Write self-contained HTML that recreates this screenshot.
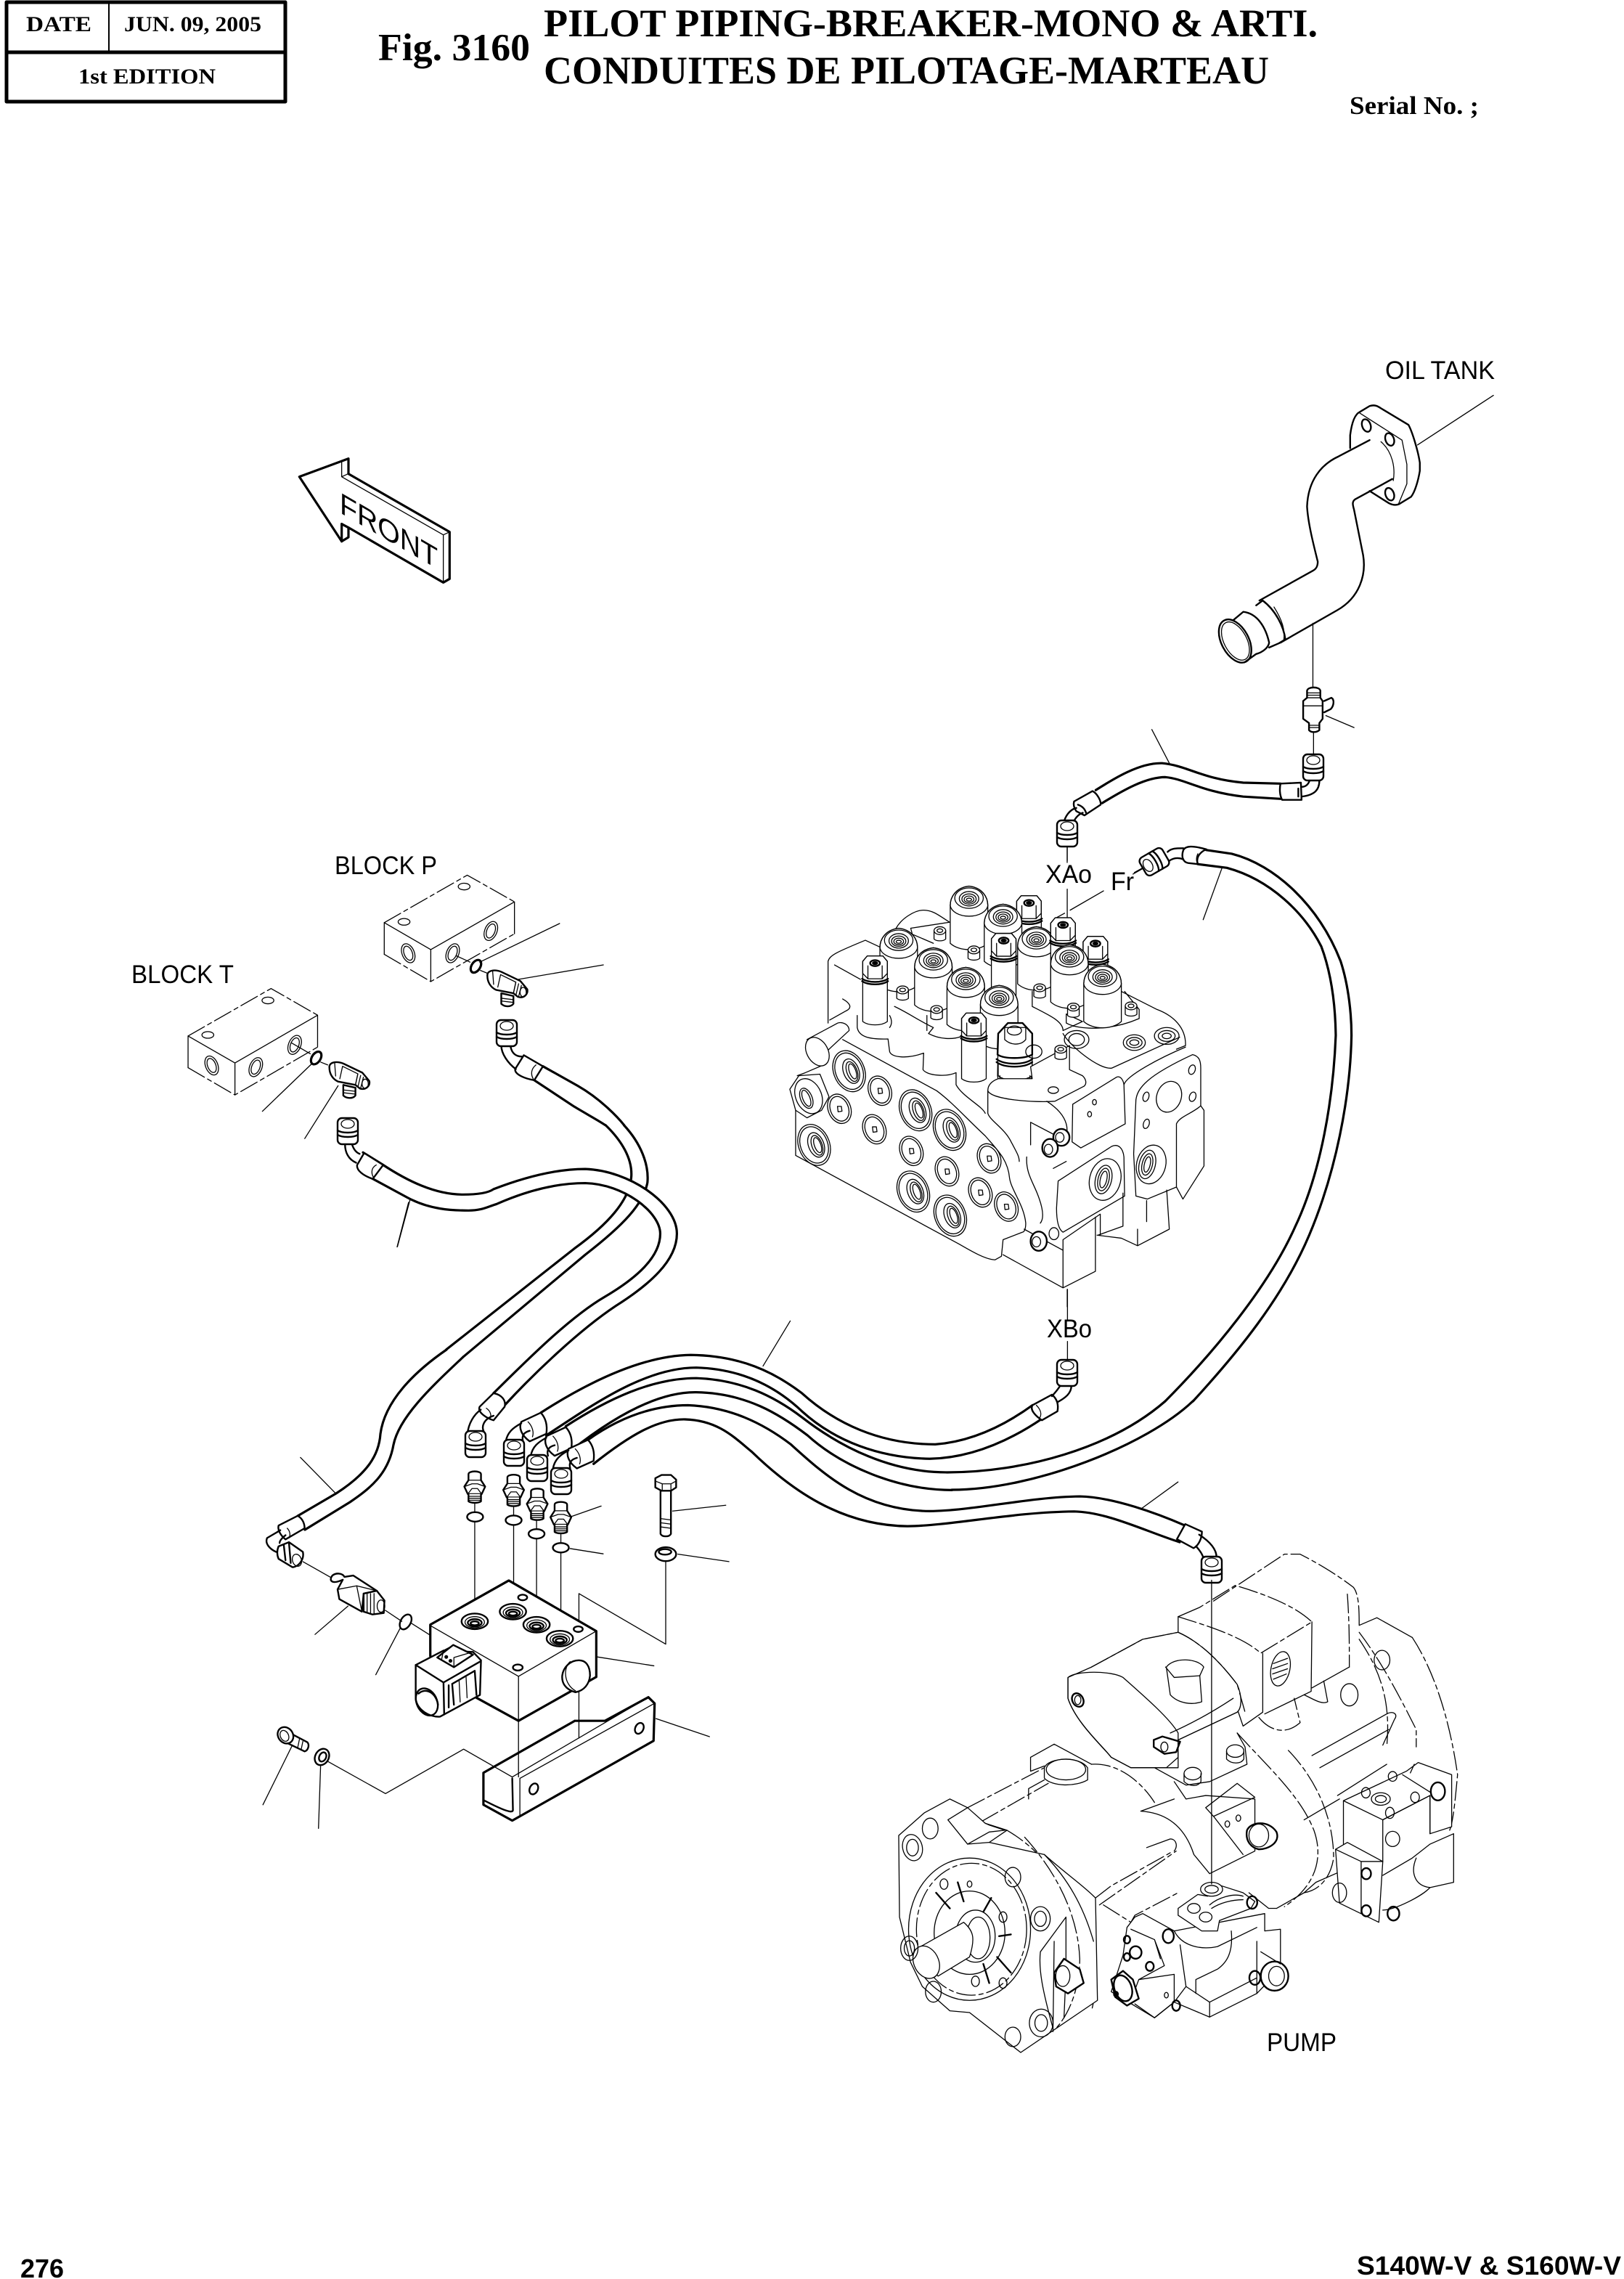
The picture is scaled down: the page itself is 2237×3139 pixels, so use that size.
<!DOCTYPE html>
<html><head><meta charset="utf-8"><title>Fig. 3160</title>
<style>
html,body{margin:0;padding:0;background:#fff}
svg{display:block}
*{vector-effect:non-scaling-stroke}
path,ellipse,rect,line,polygon{stroke:#000;stroke-linejoin:round;stroke-linecap:round}
.k{stroke-width:3.2}.m{stroke-width:2.4}.t{stroke-width:1.3}
.d{stroke-dasharray:26 5 6 5}
.w{fill:#fff}
.b{fill:#000}
text{fill:#000;stroke:none}
.se{font-family:"Liberation Serif",serif;font-weight:bold}
.sa{font-family:"Liberation Sans",sans-serif}
</style></head><body>
<svg xmlns="http://www.w3.org/2000/svg" width="2237" height="3139" viewBox="0 0 2237 3139" fill="none" stroke="#000" stroke-width="1.3">
<defs>
<g id="nut"><rect class="w m" x="-14" y="-18" width="28" height="36" rx="6"/><ellipse class="t" cx="0" cy="-10" rx="9" ry="6"/><path class="m" d="M-14,-1C-8,3 8,3 14,-1M-14,5C-8,9 8,9 14,5"/></g>
<g id="stud"><path class="m w" d="M-18,10C-18,-3 18,-3 18,10L18,32L30,55L20,82L-20,82L-30,55L-18,32Z"/><path class="t" d="M-30,55L-8,45L8,45L30,55M-20,82L-8,62L8,62L20,82M-18,32L18,32"/><path class="m w" d="M-18,82L-18,108C-10,115 10,115 18,108L18,82"/><path class="t" d="M-18,90L18,90M-18,97L18,97M-18,104L18,104"/></g>
<g id="port"><ellipse class="m w" rx="38" ry="28"/><ellipse class="t" cy="3" rx="28" ry="20"/><ellipse class="m" cy="5" rx="20" ry="13"/><ellipse class="m" cy="7" rx="12" ry="7"/></g>
<g id="cap"><path class="w" d="M-58,25L-58,150C-30,178 30,178 58,150L58,25C58,-5 40,-35 0,-40C-40,-35 -58,-5 -58,25Z"/><path d="M-58,25C-55,45 -30,60 0,60C30,60 55,45 58,25C58,-5 40,-35 0,-40C-40,-35 -58,-5 -58,25Z"/><ellipse rx="44" ry="34"/><ellipse cy="2" rx="30" ry="24"/><ellipse cy="3" rx="22" ry="17"/><ellipse cy="4" rx="15" ry="11"/><ellipse cy="5" rx="8" ry="5"/></g>
<g id="hex"><path class="w" d="M-38,-20L-24,-38L24,-38L38,-20L38,20L38,180C20,195 -20,195 -38,180L-38,20Z"/><path d="M-38,-20L-24,-38L24,-38L38,-20L38,20L22,38L-22,38L-38,20Z"/><path class="m" d="M-40,38C-20,52 20,52 40,38M-40,46C-20,60 20,60 40,46"/><ellipse class="m" cy="-14" rx="15" ry="10"/><ellipse class="b" cy="-14" rx="8" ry="5"/><path d="M-22,38L-22,-5M22,38L22,-5"/></g>
<g id="sb"><path class="w" d="M-18,0L-18,28C-10,36 10,36 18,28L18,0Z"/><ellipse class="w" rx="18" ry="13"/><ellipse rx="9" ry="6"/></g>
<g id="pb"><ellipse class="w" rx="35" ry="50" transform="rotate(-18)"/><ellipse rx="28" ry="42" transform="rotate(-18)"/><path d="M-6,-8L6,-8L8,8L-4,10Z"/></g>
<g id="pt"><ellipse class="w" rx="48" ry="70" transform="rotate(-18)"/><ellipse rx="42" ry="62" transform="rotate(-18)"/><ellipse cx="6" cy="2" rx="24" ry="42" transform="rotate(-18)"/><ellipse cx="8" cy="4" rx="16" ry="34" transform="rotate(-18)"/><ellipse cx="10" cy="4" rx="10" ry="26" transform="rotate(-18)"/></g>
<g id="tf"><path class="m w" d="M1130,622L1130,660C1140,672 1158,672 1165,660L1165,632Z"/><path class="t" d="M1130,640L1165,645M1130,650L1165,655"/><path class="m w" d="M1090,560C1088,540 1110,535 1130,545L1185,578L1205,608C1208,625 1195,642 1178,635L1165,622L1115,610C1098,600 1090,580 1090,560Z"/><path class="t" d="M1120,600L1128,555L1172,582L1165,622M1105,540L1108,590"/><path class="t" d="M1172,582L1165,622M1180,588L1172,630M1188,594L1180,634"/><ellipse class="t" cx="1193" cy="618" rx="9" ry="17"/></g>
<g id="fer"><path class="m w" d="M285,985L320,955C330,975 332,1000 330,1025L300,1050C285,1030 280,1005 285,985Z"/><path class="t" d="M297,985C305,1000 308,1020 305,1035"/><path class="m" d="M257,1050C260,1020 270,1005 285,990M288,1050C285,1030 290,1020 300,1015"/></g>
</defs>

<!-- HEADER -->
<rect class="m" x="9" y="3" width="384" height="137" style="stroke-width:5"/>
<line x1="9" y1="72" x2="393" y2="72" style="stroke-width:5"/>
<line x1="150" y1="3" x2="150" y2="72" style="stroke-width:2"/>
<text class="se" x="36" y="43" font-size="30" textLength="90" lengthAdjust="spacingAndGlyphs">DATE</text>
<text class="se" x="171" y="43" font-size="30" textLength="189" lengthAdjust="spacingAndGlyphs">JUN. 09, 2005</text>
<text class="se" x="108" y="115" font-size="30" textLength="189" lengthAdjust="spacingAndGlyphs">1st EDITION</text>
<text class="se" x="521" y="83" font-size="53" textLength="209" lengthAdjust="spacingAndGlyphs">Fig. 3160</text>
<text class="se" x="749" y="50" font-size="54" textLength="1066" lengthAdjust="spacingAndGlyphs">PILOT PIPING-BREAKER-MONO &amp; ARTI.</text>
<text class="se" x="749" y="115" font-size="54" textLength="999" lengthAdjust="spacingAndGlyphs">CONDUITES DE PILOTAGE-MARTEAU</text>
<text class="se" x="1859" y="157" font-size="35" textLength="178" lengthAdjust="spacingAndGlyphs">Serial No. ;</text>
<text class="sa" font-weight="bold" x="28" y="3137" font-size="36" textLength="60" lengthAdjust="spacingAndGlyphs">276</text>
<text class="sa" font-weight="bold" x="1869" y="3133" font-size="36" textLength="364" lengthAdjust="spacingAndGlyphs">S140W-V &amp; S160W-V</text>

<!-- LABELS -->
<text class="sa" x="1908" y="522" font-size="35" textLength="151" lengthAdjust="spacingAndGlyphs">OIL TANK</text>
<text class="sa" x="461" y="1204" font-size="35" textLength="141" lengthAdjust="spacingAndGlyphs">BLOCK P</text>
<text class="sa" x="181" y="1354" font-size="35" textLength="141" lengthAdjust="spacingAndGlyphs">BLOCK T</text>
<text class="sa" x="1440" y="1216" font-size="35" textLength="64" lengthAdjust="spacingAndGlyphs">XAo</text>
<text class="sa" x="1530" y="1226" font-size="35" textLength="32" lengthAdjust="spacingAndGlyphs">Fr</text>
<text class="sa" x="1442" y="1842" font-size="35" textLength="62" lengthAdjust="spacingAndGlyphs">XBo</text>
<text class="sa" x="1745" y="2825" font-size="35" textLength="96" lengthAdjust="spacingAndGlyphs">PUMP</text>

<!-- FRONT ARROW -->
<g transform="translate(380 600) scale(.3333)">
<path class="k" d="M97,170L300,95L300,158L718,398L718,592L692,607L300,380L300,420L272,437Z"/>
<path class="t" d="M272,107L272,170L692,410L692,607M272,170L298,158M692,410L718,398"/>
<path class="k" d="M272,365L272,437M272,365L300,380"/>
</g>
<text class="sa" font-size="41" textLength="156" lengthAdjust="spacingAndGlyphs" transform="matrix(.866 .5 0 1 468 706)">FRONT</text>

<!-- OIL TANK PIPE -->
<g transform="translate(1400 470) scale(.4464)">
<path class="m" d="M1030,330L1030,290C1035,250 1045,225 1060,218L1090,200C1105,195 1115,200 1125,207L1210,258C1222,280 1240,340 1245,375L1245,400C1240,430 1230,465 1218,480L1180,503C1170,507 1160,505 1150,500L1090,462"/>
<path class="t" d="M1060,222L1190,305L1205,380L1205,440L1180,500"/>
<ellipse class="m" cx="1080" cy="260" rx="13" ry="20" transform="rotate(-20 1080 260)"/>
<ellipse class="m" cx="1152" cy="303" rx="13" ry="20" transform="rotate(-20 1152 303)"/>
<ellipse class="m" cx="1152" cy="472" rx="13" ry="20" transform="rotate(-20 1152 472)"/>
<path class="m" d="M1090,305L995,355C940,380 900,430 897,510C900,560 915,620 930,680C930,695 925,703 915,708L750,800"/>
<path class="m" d="M1160,425L1045,488C1035,495 1038,505 1042,520L1070,660C1080,720 1060,790 990,830L815,930"/>
<path class="t" d="M1125,310C1160,340 1170,390 1163,430"/>
<ellipse class="m" cx="675" cy="925" rx="42" ry="72" transform="rotate(-28 675 925)"/>
<ellipse class="t" cx="676" cy="925" rx="35" ry="64" transform="rotate(-28 676 925)"/>
<path class="m" d="M670,860L700,835C745,840 770,885 780,930C778,945 760,960 740,965L705,990"/>
<path class="m" d="M740,815L760,800C800,830 825,880 830,920L810,932L780,945"/>
<path class="t" d="M795,820C820,860 830,890 825,925"/>
<path d="M915,870L915,1065M917,1205L917,1280M1238,320L1472,167M955,1155L1042,1192M418,1198L472,1302"/>
<path class="m w" d="M897,1078C900,1065 935,1065 938,1078L938,1100L945,1110L945,1165L935,1178L935,1200C925,1208 910,1208 903,1200L903,1178L885,1165L885,1110L897,1100Z"/>
<path class="t" d="M897,1085L938,1085M897,1092L938,1092M897,1100L938,1100M885,1125L945,1125M903,1185L935,1185M903,1192L935,1192"/>
<path class="m" d="M950,1110L972,1100C982,1105 980,1125 970,1135L950,1145"/>
<path class="k" d="M245,1385C300,1350 380,1300 450,1302C530,1310 570,1350 700,1362L815,1365"/>
<path class="k" d="M265,1425C330,1385 400,1345 460,1345C520,1350 570,1390 700,1405L815,1412"/>
<path class="m w" d="M815,1365L878,1362L880,1415L820,1415C812,1400 812,1380 815,1365Z"/>
<path class="m" d="M880,1375C890,1375 900,1370 905,1355M880,1405C920,1400 935,1385 935,1355M870,1380L870,1405"/>
<path class="m w" d="M178,1420L235,1388C250,1395 262,1420 260,1430L210,1463L185,1450C178,1440 175,1430 178,1420Z"/>
<path class="m" d="M190,1430C205,1435 212,1445 215,1455M185,1440C165,1445 150,1465 145,1490M205,1455C190,1460 178,1475 175,1490"/>
</g>
<use href="#nut" x="1809" y="1057"/>
<use href="#nut" x="1470" y="1148"/>
<path d="M1470,1167L1470,1188"/>

<!-- HOSES: main area -->
<g transform="translate(500 1550) scale(.7653 .4145)">
<!-- P hose under T hose -->
<path class="k" d="M437,0C465,50 485,110 483,170C480,250 440,330 380,410L150,745"/>
<path class="k" d="M470,0C500,60 515,130 512,190C505,260 470,330 400,430L180,770"/>
<path d="M15,125L60,190C100,235 150,257 185,257C210,257 225,250 238,237C285,200 340,168 400,168C475,172 550,275 550,360C550,445 503,520 445,585C380,660 300,805 245,910" stroke="#fff" style="stroke:#fff;stroke-width:22"/>
<path class="k" d="M0,90L35,130C80,185 130,230 180,230C205,230 225,225 235,212C280,180 340,145 400,145C480,150 565,260 565,360C565,450 515,530 455,600C390,680 310,820 255,930"/>
<path class="k" d="M0,160L80,240C120,280 160,283 190,283C215,283 225,270 240,262C285,225 340,192 400,192C470,195 535,290 535,360C535,440 490,510 435,570C370,640 290,790 235,890"/>
<path d="M85,245L62,403M769,650L720,800M1268,545L1268,650M1268,718L1268,780M1400,1275L1467,1185"/>
<!-- bundle -->
<path class="k" d="M320,955C400,860 500,765 590,763C680,765 740,820 790,890C850,990 930,1060 1030,1060C1100,1050 1160,990 1205,930"/>
<path class="k" d="M330,1030C420,920 510,805 600,805C690,810 750,880 790,950C850,1050 930,1105 1020,1108C1100,1105 1170,1040 1222,975"/>
<path class="k" d="M365,1000C440,910 520,840 600,840C680,845 740,900 790,970C860,1070 950,1153 1050,1153"/>
<path class="k" d="M375,1080C450,970 530,885 600,887C690,890 750,960 800,1030C860,1130 960,1212 1060,1212"/>
<path class="k" d="M405,1045C470,960 530,930 585,930C660,935 720,990 770,1060C830,1160 900,1280 1020,1282C1100,1280 1200,1235 1290,1233C1350,1235 1430,1290 1480,1330"/>
<path class="k" d="M415,1125C480,1030 530,975 580,977C640,980 670,1040 700,1085C770,1210 860,1330 980,1332C1060,1330 1170,1285 1280,1283C1340,1285 1410,1350 1470,1385"/>
<!-- ferrules -->
<path class="m w" d="M210,935L235,890C250,895 258,915 255,935L235,980C225,975 205,955 210,935Z"/>
<path class="t" d="M222,940C230,950 232,965 228,975"/>
<path class="m" d="M188,1025C190,990 200,960 212,945M218,1020C212,1000 218,975 235,965"/>
<use href="#fer"/>
<use href="#fer" x="45" y="48"/>
<use href="#fer" x="85" y="90"/>
<path class="m w" d="M1205,930L1240,895C1250,910 1252,930 1250,950L1222,980C1210,965 1200,945 1205,930Z"/>
<path class="t" d="M1212,930C1220,945 1222,960 1218,972"/>
<path class="m" d="M1255,865C1250,880 1245,890 1240,900M1275,865C1275,890 1265,905 1250,920"/>
<path class="m w" d="M1465,1375L1480,1325L1510,1350C1510,1370 1505,1395 1495,1405Z"/>
<path class="m" d="M1505,1360C1530,1390 1540,1420 1535,1450M1500,1400C1510,1420 1515,1440 1512,1450"/>
</g>
<!-- continuous real-coordinate hose sections -->
<path class="k" d="M1304,2028C1410,2028 1530,1995 1605,1930"/>
<path class="k" d="M1311,2052C1425,2052 1580,1990 1643,1930"/>
<path class="k" d="M615,1859C570,1890 530,1930 524,1975C522,2005 505,2030 463,2057L410,2088"/>
<path class="k" d="M638,1869C600,1905 550,1950 542,1990C535,2030 510,2050 482,2069L420,2107"/>
<use href="#nut" x="655" y="1989"/>
<use href="#nut" x="708" y="2001"/>
<use href="#nut" x="740" y="2022"/>
<use href="#nut" x="773" y="2040"/>
<use href="#nut" x="1470" y="1891"/>
<use href="#nut" x="1669" y="2162"/>

<!-- BIG Fr HOSE -->
<g transform="translate(1550 1130) scale(.3333 .5102)">
<path class="k" d="M335,80L440,90C620,120 800,230 890,380C925,450 935,530 935,580C930,750 870,950 760,1120C650,1290 460,1440 280,1568"/>
<path class="k" d="M300,118L420,128C600,160 740,250 810,340C850,410 868,490 870,580C860,750 810,950 700,1100C590,1260 360,1440 165,1568"/>
<path class="m w" d="M240,80C250,68 280,68 335,78C310,85 290,100 300,118L260,115C235,112 232,95 240,80Z"/>
<path class="t" d="M300,90C293,100 293,110 300,118"/>
<path class="m" d="M175,85C190,75 210,75 240,75M180,110C200,100 220,100 240,105"/>
<path d="M400,128L322,268M32,145L78,128"/>
</g>
<use href="#nut" transform="translate(1590 1187) rotate(-120)"/>

<!-- BLOCKS P / T and fittings -->
<g transform="translate(150 1130) scale(.4783 .3827)">
<path class="t d" d="M793,368L1032,197L1168,293"/>
<path d="M793,368L927,465L1168,293M793,368L793,482M927,465L927,580M1168,293L1168,408"/>
<path class="t d" d="M793,482L927,580L1168,408"/>
<ellipse cx="850" cy="365" rx="17" ry="12"/><ellipse cx="1023" cy="238" rx="17" ry="12"/>
<ellipse cx="862" cy="478" rx="18" ry="35" transform="rotate(-15 862 478)"/><ellipse cx="862" cy="478" rx="12" ry="26" transform="rotate(-15 862 478)"/>
<ellipse cx="990" cy="478" rx="18" ry="35" transform="rotate(15 990 478)"/><ellipse cx="990" cy="478" rx="12" ry="26" transform="rotate(15 990 478)"/>
<ellipse cx="1100" cy="398" rx="18" ry="35" transform="rotate(15 1100 398)"/><ellipse cx="1100" cy="398" rx="12" ry="26" transform="rotate(15 1100 398)"/>
<ellipse class="k" cx="1057" cy="525" rx="13" ry="24" transform="rotate(22 1057 525)"/>
<path d="M1000,487L1040,510M1070,540L1090,550M1068,510L1298,371M1180,572L1424,520"/>
<use href="#tf"/>
<path class="t d" d="M228,776L467,605L601,701"/>
<path d="M228,776L363,873L601,701M228,776L228,890M363,873L363,988M601,701L601,816"/>
<path class="t d" d="M228,890L363,988L601,816"/>
<ellipse cx="285" cy="772" rx="17" ry="12"/><ellipse cx="458" cy="648" rx="17" ry="12"/>
<ellipse cx="296" cy="882" rx="18" ry="35" transform="rotate(-15 296 882)"/><ellipse cx="296" cy="882" rx="12" ry="26" transform="rotate(-15 296 882)"/>
<ellipse cx="423" cy="888" rx="18" ry="35" transform="rotate(15 423 888)"/><ellipse cx="423" cy="888" rx="12" ry="26" transform="rotate(15 423 888)"/>
<ellipse cx="535" cy="808" rx="18" ry="35" transform="rotate(15 535 808)"/><ellipse cx="535" cy="808" rx="12" ry="26" transform="rotate(15 535 808)"/>
<ellipse class="k" cx="597" cy="855" rx="13" ry="24" transform="rotate(22 597 855)"/>
<path d="M525,800L580,840M610,870L630,880M585,875L442,1047M660,955L564,1145M863,1375L830,1535"/>
<use href="#tf" x="-455" y="330"/>
<!-- T hose end -->
<path class="m w" d="M715,1240L735,1197L790,1240L760,1290C735,1280 712,1260 715,1240Z"/>
<path class="t" d="M770,1240C755,1250 755,1270 762,1285"/>
<path class="m" d="M680,1165C680,1195 690,1220 712,1232M700,1165C705,1185 712,1195 722,1200"/>
<!-- P hose end -->
<path class="k" d="M1250,885L1350,955C1420,1005 1470,1075 1484,1097"/>
<path class="k" d="M1225,935L1340,1030C1380,1060 1410,1080 1430,1097"/>
<path class="m w" d="M1170,895L1195,845L1250,885L1225,935C1200,930 1168,915 1170,895Z"/>
<path class="t" d="M1230,880C1215,895 1215,915 1222,930"/>
<path class="m" d="M1130,810C1130,840 1150,875 1172,895M1157,815C1160,835 1170,850 1190,850"/>
</g>
<use href="#nut" x="479" y="1558"/>
<use href="#nut" x="698" y="1423"/>

<!-- MANIFOLD -->
<g transform="translate(300 1950) scale(.4783 .3827)">
<path class="m w" d="M175,395L230,360C245,370 250,390 250,405L195,445C180,430 172,410 175,395Z"/>
<path class="t" d="M200,405C208,415 210,430 205,440"/>
<path class="m" d="M180,412L142,440C135,460 150,480 168,490M195,430C185,440 178,450 178,458"/>
<path class="m w" d="M175,470L205,455L245,490C250,520 230,545 215,545L175,515C170,500 170,485 175,470Z"/>
<ellipse class="t" cx="228" cy="520" rx="13" ry="22" transform="rotate(-10 228 520)"/>
<path class="m" d="M190,465L195,520M205,458L210,530"/>
<path d="M340,280L238,150M245,525L330,585"/>
<path class="m w" d="M360,590C325,610 320,590 330,575C340,565 358,565 365,580L390,575L458,630L420,640L415,705L350,660L345,625Z"/>
<path class="t" d="M345,625L400,612L458,630M400,612L415,705"/>
<path class="m w" d="M420,640L458,630L480,665L478,710L445,715L420,705Z"/>
<ellipse cx="470" cy="685" rx="11" ry="22"/>
<path class="t" d="M430,640L430,705M440,640L440,710M450,640L450,712"/>
<path d="M375,685L280,787M482,700L530,740M555,745L612,790M525,765L455,932"/>
<ellipse class="m" cx="541" cy="742" rx="15" ry="28" transform="rotate(20 541 742)"/>
<!-- lines -->
<path d="M740,312L740,345M740,382L740,735M852,325L852,360M852,395L852,685M918,375L918,408M918,442L918,740M988,425L988,458M988,495L988,800"/>
<use href="#stud" x="740" y="200"/><use href="#stud" x="852" y="212"/><use href="#stud" x="920" y="262"/><use href="#stud" x="988" y="310"/>
<ellipse class="m" cx="741" cy="364" rx="23" ry="17"/><ellipse class="m" cx="852" cy="376" rx="23" ry="17"/><ellipse class="m" cx="918" cy="425" rx="23" ry="17"/><ellipse class="m" cx="988" cy="475" rx="23" ry="17"/>
<path d="M1020,362L1104,325M1015,478L1110,497M1310,343L1463,322M1325,498L1472,525M1093,868L1256,900"/>
<!-- bolt -->
<path class="m" d="M1275,270L1275,425C1280,437 1300,437 1305,425L1305,270"/>
<path class="m w" d="M1260,225L1278,213L1305,213L1320,230L1320,258L1305,270L1278,270L1260,258Z"/>
<path class="t" d="M1260,235L1280,245L1305,245L1320,235M1280,245L1280,270M1305,245L1305,270M1275,370L1305,375M1275,385L1305,390M1275,400L1305,405"/>
<ellipse class="m" cx="1290" cy="498" rx="30" ry="25"/><ellipse class="m" cx="1288" cy="490" rx="18" ry="10"/>
<path d="M1290,525L1290,822L1040,640L1040,760"/>
<!-- block body -->
<path class="k w" d="M612,752L838,593L1090,775L1090,940L866,1098L745,1015L612,865Z"/>
<path d="M612,755L866,938L1090,775M866,938L866,1098"/>
<use href="#port" x="740" y="740"/><use href="#port" x="850" y="705"/><use href="#port" x="918" y="752"/><use href="#port" x="985" y="802"/>
<ellipse class="m" cx="878" cy="654" rx="13" ry="10"/><ellipse class="m" cx="1038" cy="768" rx="13" ry="10"/><ellipse class="m" cx="864" cy="906" rx="14" ry="11"/>
<!-- solenoid -->
<path class="m w" d="M570,897L650,845L735,850L758,880L755,1005L640,1083C610,1085 575,1060 570,1020Z"/>
<path class="m" d="M570,897L650,960L755,885M650,960L652,1075"/>
<path class="m w" d="M632,870L678,825L735,860L680,905Z"/>
<path class="t" d="M645,875L650,845L680,825M680,905L680,870L735,850"/>
<ellipse class="b" cx="658" cy="868" rx="4" ry="5"/><ellipse class="b" cx="670" cy="882" rx="4" ry="5"/>
<path class="m" d="M665,970L665,1050M675,965L740,918L745,1005M675,965L680,1040"/>
<path class="t" d="M695,955L698,1030M715,940L718,1015"/>
<ellipse class="m" cx="602" cy="1030" rx="30" ry="50" transform="rotate(-15 602 1030)"/>
<path class="m" d="M578,1000C600,975 630,1000 634,1040"/>
<!-- plug -->
<path class="m w" d="M1040,880C1060,880 1072,900 1072,935C1070,965 1055,990 1030,995C1000,985 990,960 992,935C995,905 1015,880 1040,880Z"/>
<path class="t" d="M1015,885C995,905 995,965 1030,990"/>
<!-- bracket -->
<path d="M1040,995L1040,1160M866,1098L866,1300"/>
<path class="k" d="M1028,1098L765,1285L765,1400L848,1457L1255,1170L1258,1035L1240,1013L1115,1098L1028,1098"/>
<path class="m" d="M848,1305L850,1420C848,1430 830,1425 768,1385"/>
<path d="M848,1300L1240,1013M870,1305L870,1440M870,1305L1258,1035"/>
<ellipse class="m" cx="1214" cy="1125" rx="12" ry="20" transform="rotate(15 1214 1125)"/>
<ellipse class="m" cx="910" cy="1343" rx="12" ry="20" transform="rotate(15 910 1343)"/>
<path d="M1262,1090L1416,1155M848,1300L708,1200L483,1360L318,1245"/>
<!-- bolt+washer -->
<path class="m w" d="M205,1140L258,1175C265,1185 260,1205 250,1208L200,1178Z"/>
<ellipse class="m w" cx="195" cy="1150" rx="22" ry="30" transform="rotate(-15 195 1150)"/>
<ellipse cx="192" cy="1152" rx="12" ry="20" transform="rotate(-15 192 1152)"/>
<path class="t" d="M235,1165L230,1195M245,1172L240,1202"/>
<ellipse class="m" cx="300" cy="1228" rx="20" ry="30" transform="rotate(15 300 1228)"/>
<ellipse class="m" cx="302" cy="1228" rx="10" ry="17" transform="rotate(15 302 1228)"/>
<path d="M215,1185L130,1400M296,1262L290,1485"/>
</g>

<!-- CONTROL VALVE -->
<g transform="translate(1000 1150) scale(.4464 .4145)">
<path d="M1053,40L1053,85M1053,180L1053,420M1053,1510L1053,1568M1062,250L1165,186M1020,275L1045,260M1260,125L1285,110"/>
<path d="M525,310C540,280 580,250 610,250C640,250 660,270 690,290M690,290L570,310L575,330L640,360"/>
<path d="M315,625L315,420C320,400 340,390 430,350L480,375M335,432L415,480M360,545C385,560 390,575 370,585L320,615"/>
<path d="M1220,520L1330,580C1380,600 1420,640 1418,700L1390,712M1040,660C1060,700 1150,780 1190,775L1400,672"/>
<!-- flanges -->
<path d="M405,600L405,640C410,670 440,680 500,678L505,720C510,740 560,745 610,725L608,780C620,800 680,805 710,790L710,830C730,870 790,900 800,925"/>
<path d="M505,640C515,625 510,610 505,600M520,570C560,590 600,620 640,640L625,660C660,680 700,680 725,670M620,650L620,600M945,520L945,570C1000,600 1040,620 1040,650L1100,620L1050,595L1050,625C1090,650 1190,650 1275,610L1275,580L1230,520"/>
<use href="#cap" x="750" y="210"/>
<use href="#hex" x="935" y="260" transform="translate(0 -20)"/>
<use href="#cap" x="855" y="270"/>
<use href="#sb" x="660" y="318"/>
<use href="#cap" x="958" y="345"/>
<use href="#hex" x="1040" y="328" transform="translate(0 -15)"/>
<use href="#hex" x="1140" y="390" transform="translate(0 -15)"/>
<use href="#sb" x="765" y="382"/>
<use href="#cap" x="533" y="350"/>
<use href="#hex" x="857" y="365"/>
<use href="#cap" x="640" y="415"/>
<use href="#hex" x="460" y="440"/>
<use href="#cap" x="1060" y="405"/>
<use href="#sb" x="545" y="515"/>
<use href="#sb" x="968" y="508"/>
<use href="#cap" x="740" y="480"/>
<use href="#cap" x="1162" y="470"/>
<use href="#sb" x="650" y="580"/><use href="#sb" x="1072" y="572"/><use href="#sb" x="1250" y="568"/><use href="#sb" x="1033" y="712"/>
<use href="#cap" x="843" y="540"/>
<use href="#hex" x="765" y="630"/>
<!-- big stack -->
<path class="w" d="M840,660L870,625L915,625L945,660L945,800L930,845L845,845L838,800Z"/>
<path class="m" d="M840,660L870,625L915,625L945,660L945,730C920,745 860,745 838,730Z"/>
<path class="m" d="M835,745C860,765 920,765 945,745M835,755C860,775 920,775 945,755"/>
<path d="M840,760L840,800C860,820 920,820 945,800L945,760M845,800L845,845M938,800L938,845M860,680L860,640L925,640L925,680M860,680C880,700 910,700 925,680"/>
<ellipse cx="890" cy="650" rx="22" ry="15"/>
<!-- front plate -->
<path d="M360,680L650,850C700,890 740,940 800,1000C840,1050 870,1080 875,1140C880,1180 920,1230 925,1290C925,1310 920,1320 915,1320L855,1345L850,1400L830,1412C800,1410 760,1385 720,1360L215,1065L215,915"/>
<path d="M250,680L345,625C360,620 380,630 380,650L315,715L310,760L245,790L220,800"/>
<ellipse cx="282" cy="720" rx="33" ry="50" class="w" transform="rotate(-25 282 720)"/>
<path class="w" d="M197,845L225,800L290,795L318,870L295,915L250,940L215,915Z"/>
<ellipse cx="255" cy="868" rx="40" ry="60" transform="rotate(-20 255 868)"/>
<ellipse cx="248" cy="875" rx="18" ry="35" transform="rotate(-20 248 875)"/>
<ellipse cx="248" cy="875" rx="11" ry="28" transform="rotate(-20 248 875)"/>
<use href="#pt" x="380" y="785"/><use href="#pt" x="585" y="915"/><use href="#pt" x="690" y="980"/><use href="#pt" x="272" y="1030"/><use href="#pt" x="578" y="1185"/><use href="#pt" x="692" y="1265"/>
<use href="#pb" x="475" y="850"/><use href="#pb" x="350" y="910"/><use href="#pb" x="458" y="978"/><use href="#pb" x="572" y="1050"/><use href="#pb" x="682" y="1118"/><use href="#pb" x="812" y="1075"/><use href="#pb" x="785" y="1188"/><use href="#pb" x="865" y="1235"/>
<!-- right of centre -->
<path d="M808,850L808,925C815,950 860,975 880,1020C900,1060 905,1070 905,1085"/>
<path class="w" d="M840,810C815,820 808,835 808,850C820,880 950,890 1015,885L1105,835C1115,825 1110,810 1100,800L1060,780L1060,700L940,770L945,810Z"/>
<ellipse cx="1010" cy="848" rx="16" ry="11"/><ellipse cx="950" cy="720" rx="25" ry="22"/>
<use href="#sb" x="1033" y="712"/>
<path class="w" d="M1070,895L1205,805C1215,800 1225,810 1228,830L1232,960L1095,1040L1068,1020Z"/>
<ellipse cx="1137" cy="888" rx="6" ry="9"/><ellipse cx="1122" cy="928" rx="6" ry="9"/>
<path d="M990,885C1040,920 1060,960 1050,1000M940,955L940,1030M940,955L1020,1000M928,1070C925,1120 945,1150 960,1190C975,1230 985,1270 970,1290M1010,1108L1050,1085"/>
<path class="w" d="M1025,1150L1190,1035C1210,1025 1225,1040 1228,1070L1230,1200L1040,1320C1025,1310 1020,1280 1020,1240Z"/>
<ellipse cx="1170" cy="1145" rx="48" ry="70" transform="rotate(12 1170 1145)"/>
<ellipse cx="1165" cy="1145" rx="25" ry="48" transform="rotate(12 1165 1145)"/>
<ellipse cx="1165" cy="1145" rx="17" ry="38" transform="rotate(12 1165 1145)"/>
<ellipse cx="1165" cy="1145" rx="10" ry="28" transform="rotate(12 1165 1145)"/>
<path d="M1040,1345L1040,1505L1140,1450L1140,1270M855,1395L1040,1505M920,1310L1040,1380M1040,1345L1155,1260L1155,1330"/>
<path class="w" d="M1265,880C1270,840 1300,800 1440,730C1460,735 1465,750 1465,775L1465,900L1475,915L1475,1100L1410,1210L1390,1170L1300,1210L1265,1200L1258,1060Z"/>
<path d="M1228,830C1235,800 1340,740 1418,705M1390,960L1390,1170M1390,960C1400,935 1440,925 1465,900"/>
<ellipse cx="1367" cy="870" rx="38" ry="52" transform="rotate(15 1367 870)"/>
<ellipse cx="1296" cy="870" rx="9" ry="16" transform="rotate(15 1296 870)"/>
<ellipse cx="1297" cy="960" rx="9" ry="16" transform="rotate(15 1297 960)"/>
<ellipse cx="1438" cy="780" rx="10" ry="16" transform="rotate(15 1438 780)"/>
<ellipse cx="1440" cy="870" rx="10" ry="16" transform="rotate(15 1440 870)"/>
<ellipse cx="1312" cy="1095" rx="45" ry="65" transform="rotate(12 1312 1095)"/>
<ellipse cx="1300" cy="1095" rx="25" ry="48" transform="rotate(12 1300 1095)"/>
<ellipse cx="1300" cy="1095" rx="16" ry="36" transform="rotate(12 1300 1095)"/>
<ellipse cx="1300" cy="1095" rx="9" ry="26" transform="rotate(12 1300 1095)"/>
<ellipse cx="1260" cy="690" rx="34" ry="26"/><ellipse cx="1260" cy="690" rx="24" ry="17"/><ellipse cx="1260" cy="690" rx="14" ry="9"/>
<ellipse cx="1360" cy="668" rx="38" ry="28"/><ellipse cx="1360" cy="668" rx="26" ry="18"/><ellipse cx="1360" cy="668" rx="14" ry="9"/>
<ellipse cx="1082" cy="680" rx="38" ry="30"/><ellipse cx="1082" cy="680" rx="24" ry="20"/>
<path d="M1298,1215L1298,1285M1360,1180L1368,1310L1270,1365L1220,1340L1145,1330M1270,1365L1270,1310M1225,1190L1225,1300L1148,1330"/>
<g class="m">
<ellipse class="m w" cx="1035" cy="1005" rx="25" ry="28"/><ellipse class="t" cx="1030" cy="1005" rx="13" ry="16"/>
<ellipse class="m w" cx="1000" cy="1040" rx="24" ry="30"/><ellipse class="t" cx="995" cy="1045" rx="13" ry="17"/>
<ellipse class="m w" cx="965" cy="1350" rx="25" ry="32"/><ellipse class="t" cx="958" cy="1352" rx="13" ry="17"/>
<ellipse class="t" cx="1012" cy="1325" rx="15" ry="20"/>
</g>
</g>

<!-- PUMP -->
<g transform="translate(1200 2100) scale(.5421 .4783)">
<!-- rear casing -->
<path class="t d" d="M870,220L1050,85L1090,85C1150,120 1190,150 1225,180C1240,200 1240,250 1240,290M1210,200C1215,280 1215,340 1215,410"/>
<path d="M780,265L835,238M780,265L780,310M1240,290L1285,268L1375,325M1120,470L1215,410M1120,280L1118,480L1000,545M995,370L995,540L945,580L930,530"/>
<path class="t d" d="M780,265C850,290 940,320 990,370L1120,280C1100,260 1060,220 925,175L835,238"/>
<path d="M1100,490C1120,500 1145,520 1160,510L1150,450"/>
<ellipse cx="1040" cy="415" rx="24" ry="50" transform="rotate(10 1040 415)"/>
<path d="M1022,400L1058,385M1020,415L1058,400M1020,430L1058,415M1022,445L1055,430"/>
<path class="t d" d="M1375,325C1430,420 1470,560 1490,720C1485,780 1480,850 1470,880M1240,310C1300,400 1345,500 1385,590L1385,640M1240,330C1300,430 1320,520 1310,640"/>
<path d="M1300,635L1330,560C1340,545 1325,535 1310,545L1120,665M1140,700L1315,590M1185,780L1310,690M1100,850L1190,790"/>
<ellipse cx="1298" cy="390" rx="20" ry="28"/><ellipse cx="1215" cy="490" rx="22" ry="32"/>
<path class="t d" d="M985,555C1010,590 1050,610 1090,570L1075,500M1060,650C1120,720 1175,830 1175,960C1170,1000 1150,1050 1100,1060M930,600C1010,700 1090,780 1125,880C1150,960 1130,1040 1050,1100"/>
<path d="M1030,1105L1100,1060L1130,1030L1190,1000M960,1060L1010,1105L1030,1105"/>
<!-- gear housing -->
<path class="w" d="M500,440L560,410L690,330L780,310C840,340 890,400 930,460C945,500 940,530 930,540L780,620L780,700L660,700L610,670C590,640 520,570 500,500Z"/>
<path class="t d" d="M560,410L690,330L780,310C840,340 890,400 930,460L950,540"/>
<path d="M500,440C520,420 610,420 640,440C700,500 760,560 780,600L780,670L750,700L660,700L610,670C590,640 520,570 500,500Z"/>
<path d="M780,620L930,540M760,600C800,580 860,545 920,500"/>
<path class="w" d="M750,410C770,380 830,385 845,410L835,435L840,510C815,520 780,515 760,490Z"/>
<path d="M748,410L770,440L835,435"/>
<ellipse class="m" cx="525" cy="505" rx="14" ry="20" transform="rotate(-20 525 505)"/>
<ellipse class="t" cx="525" cy="505" rx="8" ry="13"/>
<path class="m" d="M718,620L740,610L785,625L775,655L745,660L718,640Z"/>
<ellipse class="t" cx="745" cy="640" rx="9" ry="14"/>
<!-- mid -->
<path d="M930,600L950,640L955,690L860,740L800,750L720,700L660,700M770,740L800,790L850,780L975,790L975,830L975,940L860,1005L820,950C800,880 760,830 685,825L770,790"/>
<path d="M850,815L930,745L975,785M870,840L975,785M850,815L870,840M870,840L945,950"/>
<ellipse cx="925" cy="652" rx="22" ry="18" class="w"/><path d="M903,652L903,675C915,690 940,690 947,675L947,652"/>
<ellipse cx="817" cy="717" rx="22" ry="18" class="w"/><path d="M795,717L795,740C810,755 830,755 838,740L838,717"/>
<ellipse cx="905" cy="862" rx="6" ry="9"/><ellipse cx="933" cy="845" rx="6" ry="9"/>
<path class="m w" d="M955,880C965,855 1010,850 1030,885C1040,915 1010,935 985,935C965,930 950,910 955,880Z"/>
<ellipse cx="985" cy="895" rx="25" ry="33"/>
<!-- front body -->
<path class="t d" d="M245,815L440,700M280,855L450,745"/>
<path d="M405,670L465,632L560,690M405,670L405,710L440,695M400,790L400,760L440,735"/>
<path class="w" d="M440,700C450,670 530,665 550,700L550,735C520,755 460,755 440,730Z"/>
<ellipse cx="495" cy="705" rx="50" ry="30"/>
<path class="t d" d="M560,690C620,685 680,730 720,800M345,880C420,930 500,1020 560,1200C575,1290 575,1330 560,1400"/>
<path class="t d" d="M570,1075L610,1040L760,945M580,1095L775,940"/>
<path d="M700,930L760,905C775,905 780,925 770,940"/>
<path class="w" d="M70,895L135,830L200,790L245,815L290,860L345,880L300,915L440,950C500,1010 540,1040 570,1075L575,1370L380,1520L250,1405L200,1400L130,1330L100,1260L72,1130Z"/>
<path d="M195,850L245,920L300,885L340,880L300,865L290,860M245,815L195,850M245,920L300,915M440,950C500,1020 540,1100 565,1200"/>
<path class="t d" d="M390,900C470,1000 525,1120 530,1250C530,1320 510,1400 470,1450"/>
<path d="M430,1230L495,1130L495,1290L490,1420M430,1230C425,1280 435,1340 462,1450M465,1200L462,1460"/>
<ellipse cx="250" cy="1165" rx="155" ry="205"/>
<ellipse cx="255" cy="1165" rx="140" ry="190" class="t d"/>
<ellipse cx="250" cy="1175" rx="90" ry="120"/>
<ellipse cx="265" cy="1185" rx="50" ry="75"/>
<ellipse cx="272" cy="1190" rx="30" ry="60"/>
<path class="m" d="M165,1060L200,1105M220,1030L235,1085M305,1075L285,1115M325,1185L355,1180M320,1245L355,1290M285,1265L300,1320"/>
<path class="w" d="M110,1225L235,1145C260,1170 265,1190 250,1245L170,1300Z"/>
<ellipse class="w" cx="140" cy="1260" rx="32" ry="48" transform="rotate(-18 140 1260)"/>
<g>
<ellipse cx="105" cy="930" rx="25" ry="38" transform="rotate(-10 105 930)"/><ellipse cx="105" cy="930" rx="15" ry="24"/>
<ellipse cx="97" cy="1220" rx="22" ry="35"/><ellipse cx="97" cy="1220" rx="13" ry="22"/>
<ellipse cx="430" cy="1135" rx="25" ry="35"/><ellipse cx="430" cy="1135" rx="15" ry="22"/>
<ellipse cx="432" cy="1435" rx="30" ry="40"/><ellipse cx="432" cy="1435" rx="16" ry="24"/>
<ellipse cx="150" cy="875" rx="20" ry="30"/><ellipse cx="360" cy="1015" rx="20" ry="28"/><ellipse cx="158" cy="1345" rx="20" ry="30"/><ellipse cx="360" cy="1475" rx="20" ry="28"/>
<ellipse cx="185" cy="1035" rx="10" ry="15"/><ellipse cx="265" cy="1315" rx="10" ry="15"/><ellipse cx="335" cy="1130" rx="10" ry="15"/><ellipse cx="335" cy="1320" rx="10" ry="15"/><ellipse cx="250" cy="1035" rx="6" ry="9"/>
</g>
<path class="m w" d="M465,1290L490,1250L530,1280L540,1320L500,1350L470,1330Z"/>
<ellipse cx="487" cy="1300" rx="18" ry="30"/>
<!-- regulator -->
<path class="t d" d="M590,1095L660,1145L670,1125L780,1060"/>
<path class="w" d="M670,1130L690,1120L770,1170L1000,1120L1000,1170L1040,1165L1040,1280L980,1350L860,1418L770,1375L720,1420L610,1345L640,1240L650,1160Z"/>
<path d="M660,1165L720,1195L745,1270L680,1310L670,1340M720,1195L735,1250M770,1170C790,1215 840,1225 880,1215L980,1160M785,1210L800,1330L860,1375L860,1418M800,1330L770,1375M860,1375L980,1305M980,1200L980,1350M915,1170C920,1230 905,1260 880,1280L825,1310L825,1350"/>
<path class="w" d="M780,1105L830,1065L855,1070L890,1040L945,1060L975,1085L965,1105L885,1140L880,1170L840,1170L780,1125Z"/>
<path d="M860,1095C880,1075 920,1060 945,1070M865,1105C885,1090 915,1080 945,1080"/>
<ellipse cx="820" cy="1105" rx="16" ry="14"/><ellipse cx="850" cy="1130" rx="16" ry="14"/>
<ellipse class="m" cx="968" cy="1088" rx="13" ry="18"/>
<ellipse cx="865" cy="1050" rx="28" ry="20" class="w"/><ellipse cx="865" cy="1050" rx="17" ry="11"/>
<path d="M865,160L865,1035"/>
<ellipse class="m" cx="755" cy="1185" rx="14" ry="20"/><ellipse class="m" cx="650" cy="1195" rx="8" ry="11"/><ellipse class="m" cx="650" cy="1245" rx="8" ry="11"/><ellipse class="m" cx="708" cy="1272" rx="10" ry="13"/><ellipse class="m" cx="775" cy="1385" rx="10" ry="15"/><ellipse class="m" cx="672" cy="1232" rx="15" ry="18"/>
<path class="m w" d="M610,1310L640,1285L665,1310L680,1365L650,1385L620,1360Z"/>
<ellipse class="m" cx="640" cy="1335" rx="22" ry="38" transform="rotate(-15 640 1335)"/>
<ellipse class="b" cx="622" cy="1352" rx="6" ry="8"/>
<path d="M680,1310L770,1295L770,1375L720,1420L670,1380"/>
<ellipse cx="750" cy="1355" rx="5" ry="8"/>
<ellipse class="m w" cx="1025" cy="1300" rx="35" ry="42"/><ellipse cx="1030" cy="1300" rx="20" ry="28"/><ellipse class="m" cx="975" cy="1305" rx="14" ry="20"/>
<path d="M990,1230L1040,1265"/>
<!-- rear control -->
<path class="w" d="M1200,795L1360,710L1390,685L1475,720L1475,870L1420,890L1420,780L1300,850Z"/>
<path d="M1300,850L1300,970M1350,720L1420,770M1380,690L1370,715"/>
<ellipse cx="1295" cy="790" rx="24" ry="18"/><ellipse cx="1295" cy="790" rx="14" ry="10"/>
<g><ellipse cx="1325" cy="725" rx="11" ry="14"/><ellipse cx="1257" cy="772" rx="11" ry="15"/><ellipse cx="1382" cy="785" rx="11" ry="15"/><ellipse cx="1318" cy="830" rx="11" ry="16"/></g>
<ellipse class="m" cx="1440" cy="768" rx="18" ry="26"/>
<path d="M1200,795L1200,920M1300,850L1420,780M1420,780L1420,890M1300,1010L1375,960L1420,920L1480,890L1480,1030L1420,1045C1400,1070 1330,1110 1300,1110"/>
<path class="w" d="M1180,935L1210,915L1300,970L1290,1145L1190,1090Z"/>
<path d="M1180,935L1245,970L1245,1120M1245,970L1300,970M1385,960C1370,1000 1380,1040 1420,1045"/>
<ellipse cx="1325" cy="905" rx="18" ry="22"/><ellipse cx="1190" cy="1060" rx="18" ry="28"/><ellipse class="m" cx="1258" cy="1005" rx="12" ry="16"/><ellipse class="m" cx="1258" cy="1112" rx="12" ry="16"/><ellipse class="m" cx="1327" cy="1120" rx="15" ry="20"/>
</g>
</svg>
</body></html>
